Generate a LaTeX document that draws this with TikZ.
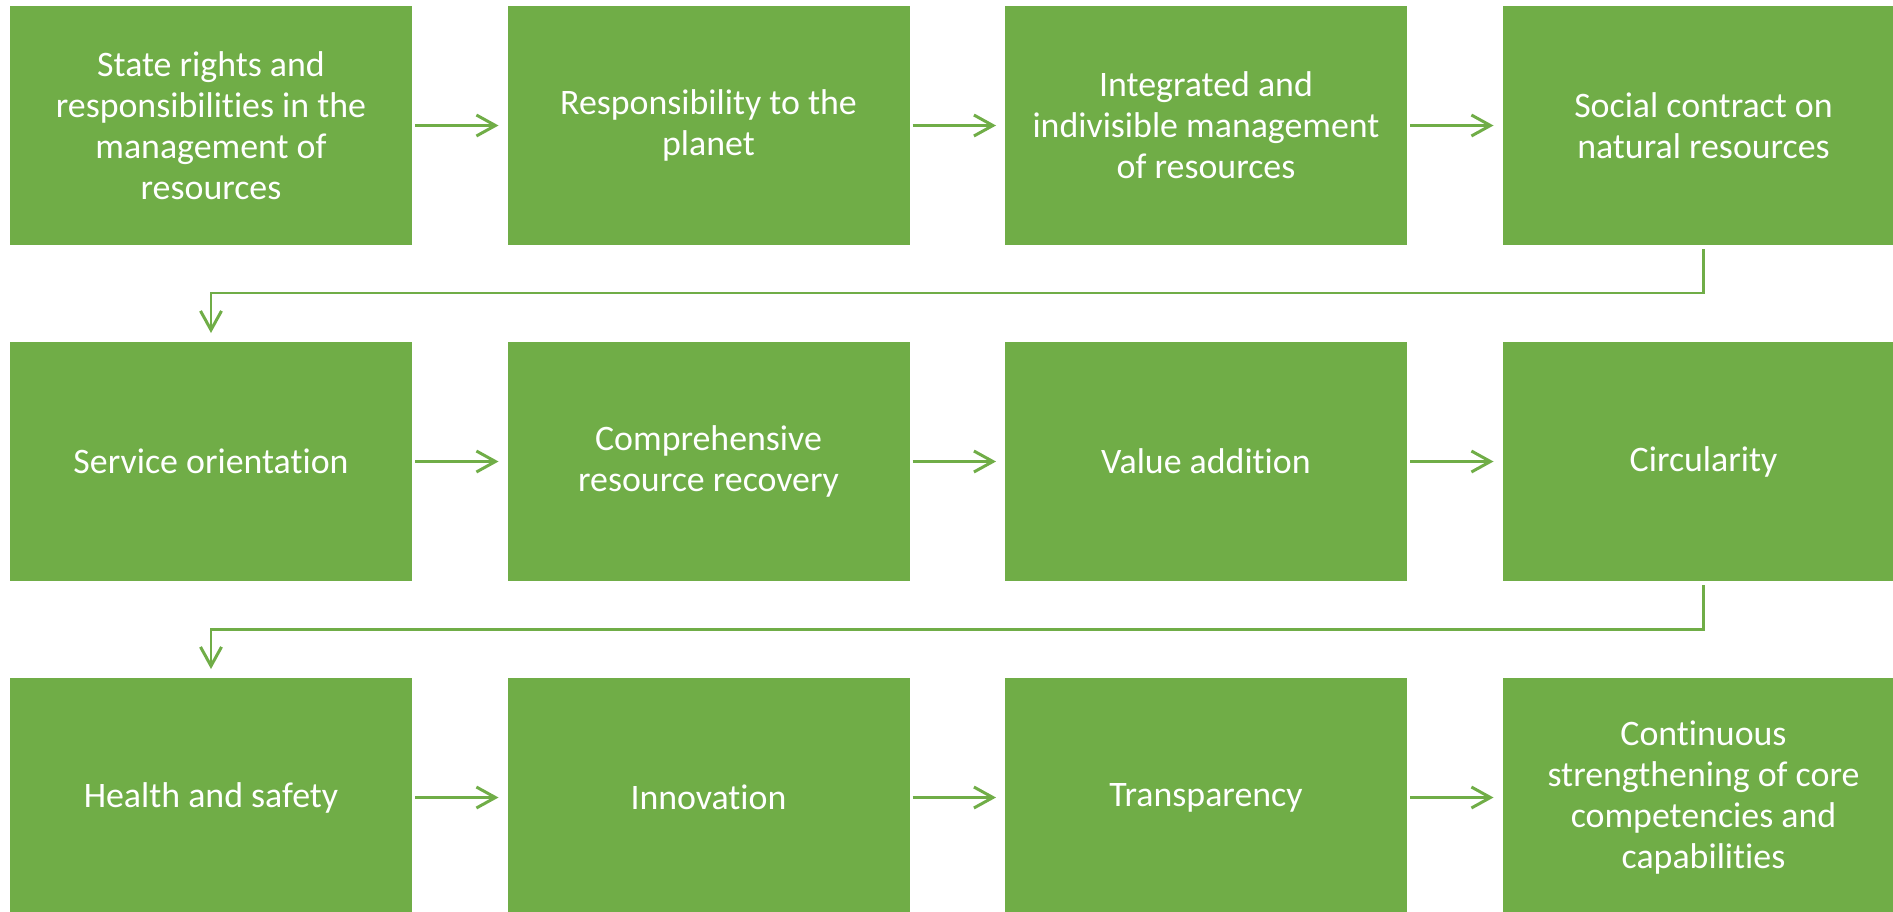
\documentclass[tikz,border=0pt]{standalone}
\usepackage{fontspec}
\setmainfont{Carlito}[Ligatures=NoCommon]
\usetikzlibrary{positioning,arrows.meta}
\definecolor{leafgreen}{HTML}{70AD47}

\begin{document}
\begin{tikzpicture}[x=1cm,y=1cm]
		\tikzset{stage/.style={fill=leafgreen, minimum width=4.02cm, minimum height=2.39cm,
				inner sep=0pt, outer sep=0pt, align=center, text=white,
				font=\fontsize{10.2pt}{11.7pt}\selectfont}}
		\tikzset{flow/.style={draw=leafgreen, line width=0.85pt,
				-{Straight Barb[length=0.19cm,width=0.21cm,line width=0.85pt]},
				shorten <=0.03cm, shorten >=0.09cm}}
		\tikzset{turn/.style={flow, shorten <=0.04cm}}
		\useasboundingbox (0,0) rectangle (18.93,-9.12);
		\clip (0,0) rectangle (18.93,-9.12);
		% first row
		\node[stage] (s1) at (2.11,-1.255) {State rights and\\responsibilities in the\\management of\\resources};
		\node[stage, right=0.955cm of s1] (s2) {Responsibility to the\\planet};
		\node[stage, right=0.955cm of s2] (s3) {Integrated and\\indivisible management\\of resources};
		\node[stage, right=0.955cm of s3] (s4) {Social contract on\\natural resources};
		% second row
		\node[stage, below=0.97cm of s1] (s5) {Service orientation};
		\node[stage, right=0.955cm of s5] (s6) {Comprehensive\\resource recovery};
		\node[stage, right=0.955cm of s6] (s7) {Value addition};
		\node[stage, right=0.955cm of s7] (s8) {Circularity};
		% third row
		\node[stage, below=0.97cm of s5] (s9) {Health and safety};
		\node[stage, right=0.955cm of s9] (s10) {Innovation};
		\node[stage, right=0.955cm of s10] (s11) {Transparency};
		\node[stage, right=0.955cm of s11] (s12) {Continuous\\strengthening of core\\competencies and\\capabilities};
		% connectors
		\foreach \a/\b in {s1/s2,s2/s3,s3/s4,s5/s6,s6/s7,s7/s8,s9/s10,s10/s11,s11/s12}
			\draw[flow] (\a) -- (\b);
		\draw[turn] (s4.south) -- ++(0,-0.48) -| (s5.north);
		\draw[turn] (s8.south) -- ++(0,-0.48) -| (s9.north);
\end{tikzpicture}
\end{document}
